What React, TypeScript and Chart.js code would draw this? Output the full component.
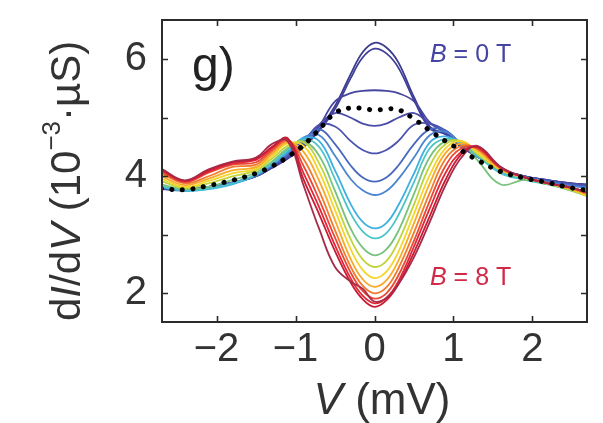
import React, { useEffect, useRef } from 'react';
import { Chart, registerables } from 'chart.js';

Chart.register(...registerables);

// Bias voltage grid (mV)
const voltages = [-2.7, -2.4, -2.1, -1.8, -1.5, -1.3, -1.1, -0.9, -0.7, -0.5, -0.3, -0.15, 0, 0.15, 0.3, 0.5, 0.7, 0.9, 1.1, 1.3, 1.6, 1.9, 2.2, 2.5, 2.7];

// dI/dV curves (10^-3 µS), from B = 0 T (blue) to B = 8 T (red)
const curveB01 = [3.78, 3.76, 3.81, 3.88, 4.00, 4.14, 4.30, 4.50, 4.80, 5.20, 5.75, 6.12, 6.28, 6.20, 5.95, 5.35, 4.85, 4.72, 4.50, 4.34, 4.12, 4.00, 3.93, 3.88, 3.86];
const curveB02 = [3.79, 3.76, 3.82, 3.89, 4.00, 4.15, 4.31, 4.50, 4.78, 5.15, 5.68, 6.03, 6.18, 6.10, 5.86, 5.30, 4.82, 4.72, 4.50, 4.34, 4.12, 4.00, 3.93, 3.88, 3.86];
const curveB03 = [3.79, 3.77, 3.82, 3.89, 4.00, 4.15, 4.32, 4.50, 4.85, 5.28, 5.42, 5.46, 5.47, 5.46, 5.42, 5.28, 4.92, 4.74, 4.52, 4.34, 4.12, 4.00, 3.93, 3.87, 3.85];
const curveB04 = [3.80, 3.77, 3.82, 3.89, 4.00, 4.16, 4.33, 4.54, 4.88, 5.08, 5.00, 4.90, 4.86, 4.90, 5.00, 5.08, 4.90, 4.76, 4.53, 4.34, 4.12, 4.00, 3.93, 3.87, 3.84];
const curveB05 = [3.80, 3.77, 3.82, 3.89, 4.01, 4.17, 4.35, 4.58, 4.88, 4.85, 4.60, 4.45, 4.39, 4.45, 4.60, 4.88, 4.90, 4.78, 4.54, 4.34, 4.12, 4.00, 3.92, 3.86, 3.83];
const curveB06 = [3.81, 3.77, 3.82, 3.89, 4.01, 4.18, 4.37, 4.62, 4.80, 4.55, 4.18, 3.98, 3.91, 3.98, 4.18, 4.55, 4.80, 4.78, 4.55, 4.35, 4.12, 3.99, 3.91, 3.85, 3.82];
const curveB07 = [3.81, 3.76, 3.80, 3.88, 4.01, 4.19, 4.40, 4.66, 4.70, 4.35, 3.95, 3.76, 3.68, 3.75, 3.95, 4.32, 4.70, 4.76, 4.55, 4.34, 4.11, 3.98, 3.90, 3.83, 3.80];
const curveB08 = [3.82, 3.75, 3.78, 3.86, 4.02, 4.20, 4.42, 4.65, 4.60, 4.10, 3.52, 3.22, 3.11, 3.20, 3.50, 4.05, 4.58, 4.68, 4.55, 4.35, 4.08, 3.96, 3.88, 3.78, 3.70];
const curveB09 = [3.83, 3.76, 3.79, 3.88, 4.03, 4.22, 4.45, 4.63, 4.50, 3.95, 3.36, 3.06, 2.94, 3.03, 3.33, 3.90, 4.48, 4.64, 4.56, 4.35, 4.05, 3.94, 3.86, 3.76, 3.68];
const curveB10 = [3.86, 3.78, 3.82, 3.94, 4.06, 4.25, 4.48, 4.60, 4.35, 3.75, 3.10, 2.78, 2.65, 2.75, 3.06, 3.70, 4.33, 4.60, 4.58, 4.28, 3.86, 3.94, 3.86, 3.75, 3.66];
const curveB11 = [3.92, 3.80, 3.88, 4.00, 4.10, 4.30, 4.52, 4.58, 4.22, 3.58, 2.92, 2.58, 2.45, 2.55, 2.88, 3.52, 4.18, 4.55, 4.60, 4.38, 4.10, 3.97, 3.87, 3.76, 3.65];
const curveB12 = [3.96, 3.82, 3.92, 4.05, 4.13, 4.34, 4.56, 4.52, 4.08, 3.42, 2.75, 2.40, 2.26, 2.37, 2.70, 3.36, 4.02, 4.48, 4.60, 4.42, 4.11, 3.98, 3.88, 3.78, 3.66];
const curveB13 = [4.00, 3.85, 3.96, 4.10, 4.16, 4.38, 4.58, 4.42, 3.92, 3.25, 2.58, 2.24, 2.11, 2.22, 2.55, 3.20, 3.88, 4.40, 4.56, 4.45, 4.12, 3.98, 3.88, 3.78, 3.68];
const curveB14 = [4.05, 3.88, 4.00, 4.16, 4.20, 4.42, 4.60, 4.30, 3.75, 3.08, 2.45, 2.13, 2.00, 2.10, 2.42, 3.04, 3.72, 4.30, 4.52, 4.47, 4.13, 3.98, 3.88, 3.79, 3.70];
const curveB15 = [4.08, 3.90, 4.06, 4.20, 4.24, 4.45, 4.62, 4.18, 3.60, 2.95, 2.35, 2.04, 1.91, 2.00, 2.30, 2.90, 3.58, 4.18, 4.48, 4.48, 4.14, 3.98, 3.88, 3.80, 3.72];
const curveB16 = [4.10, 3.92, 4.08, 4.22, 4.28, 4.48, 4.64, 4.06, 3.47, 2.82, 2.25, 1.96, 1.83, 1.92, 2.20, 2.80, 3.45, 4.06, 4.42, 4.50, 4.15, 3.98, 3.88, 3.80, 3.72];
const curveB17 = [4.12, 3.92, 4.10, 4.24, 4.30, 4.50, 4.65, 3.95, 3.35, 2.72, 2.18, 1.90, 1.77, 1.88, 2.15, 2.70, 3.32, 3.94, 4.38, 4.50, 4.15, 3.98, 3.88, 3.80, 3.72];
const curveB18 = [4.13, 3.93, 4.12, 4.25, 4.32, 4.55, 4.60, 3.85, 3.10, 2.45, 2.20, 2.08, 1.86, 1.92, 2.15, 2.62, 3.22, 3.85, 4.32, 4.52, 4.16, 3.98, 3.88, 3.80, 3.72];

// Dotted reference curve
const dottedCurve = [3.79, 3.77, 3.84, 3.93, 4.05, 4.17, 4.33, 4.53, 4.80, 5.08, 5.17, 5.16, 5.13, 5.15, 5.14, 4.98, 4.78, 4.60, 4.44, 4.28, 4.08, 3.97, 3.89, 3.80, 3.76];

const curves = [curveB01, curveB02, curveB03, curveB04, curveB05, curveB06, curveB07, curveB08, curveB09, curveB10, curveB11, curveB12, curveB13, curveB14, curveB15, curveB16, curveB17, curveB18];
const curveColors = ['#3b3b8f', '#3f3f99', '#4646a0', '#4a4aa8', '#4a52b0', '#4868c0', '#4c84d0', '#3fb0e0', '#4cc4c8', '#78c27c', '#c0d43c', '#f6d52a', '#f8aa2a', '#f27a2e', '#e84a36', '#e0283a', '#c81c34', '#a82a48'];

const xTickValues = [-2, -1, 0, 1, 2];
const yTickValues = [2, 3, 4, 5, 6];
const yLabelledTicks = [2, 4, 6];

const FONT = '"Liberation Sans", Arial, sans-serif';

const decorPlugin = {
  id: 'decor',
  afterDraw(chart: any) {
    const { ctx, chartArea: a, scales } = chart;
    ctx.save();
    // frame
    ctx.strokeStyle = '#2b2b2b';
    ctx.lineWidth = 2;
    ctx.strokeRect(a.left, a.top, a.right - a.left, a.bottom - a.top);
    // inward ticks
    ctx.lineWidth = 1.6;
    const tl = 6;
    ctx.beginPath();
    xTickValues.forEach((v) => {
      const px = Math.round(scales.x.getPixelForValue(v)) + 0.5;
      ctx.moveTo(px, a.bottom); ctx.lineTo(px, a.bottom - tl);
      ctx.moveTo(px, a.top); ctx.lineTo(px, a.top + tl);
    });
    yTickValues.forEach((v) => {
      const py = Math.round(scales.y.getPixelForValue(v)) + 0.5;
      ctx.moveTo(a.left, py); ctx.lineTo(a.left + tl, py);
      ctx.moveTo(a.right, py); ctx.lineTo(a.right - tl, py);
    });
    ctx.stroke();

    ctx.fillStyle = '#333';
    ctx.textAlign = 'left';
    ctx.textBaseline = 'alphabetic';

    // x title: V (mV)
    const xt = [
      { t: 'V', f: `italic 44px ${FONT}` },
      { t: ' (mV)', f: `44px ${FONT}` },
    ];
    let w = 0;
    xt.forEach((s) => { ctx.font = s.f; w += ctx.measureText(s.t).width; });
    let cx = 382 - w / 2;
    xt.forEach((s) => { ctx.font = s.f; ctx.fillText(s.t, cx, 414); cx += ctx.measureText(s.t).width; });

    // y title: dI/dV (10^-3·µS)
    ctx.save();
    ctx.translate(80, 321);
    ctx.rotate(-Math.PI / 2);
    let x = 0;
    const seg = (t: string, f: string, dy = 0) => {
      ctx.font = f;
      ctx.fillText(t, x, dy);
      x += ctx.measureText(t).width;
    };
    seg('d', `42px ${FONT}`);
    seg('I', `italic 42px ${FONT}`);
    seg('/d', `42px ${FONT}`);
    seg('V', `italic 42px ${FONT}`);
    seg(' (10', `42px ${FONT}`);
    seg('−3', `26px ${FONT}`, -20);
    seg('·µS)', `42px ${FONT}`);
    ctx.restore();

    // panel label
    ctx.fillStyle = '#222';
    ctx.font = `48px ${FONT}`;
    ctx.fillText('g)', 192, 81);

    // B labels
    const bLabel = (val: string, color: string, bx: number, by: number) => {
      ctx.fillStyle = color;
      ctx.font = `italic 25px ${FONT}`;
      ctx.fillText('B', bx, by);
      const bw = ctx.measureText('B').width;
      ctx.font = `25px ${FONT}`;
      ctx.fillText(' = ' + val + ' T', bx + bw, by);
    };
    bLabel('0', '#4444a2', 430, 62);
    bLabel('8', '#d02a48', 430, 285);

    ctx.restore();
  },
};

export default function App() {
  const canvasRef = useRef<HTMLCanvasElement | null>(null);

  useEffect(() => {
    document.body.style.margin = '0';
    const canvas = canvasRef.current;
    if (!canvas) return;

    const toPoints = (arr: number[]) => voltages.map((v, i) => ({ x: v, y: arr[i] }));

    const datasets: any[] = [
      {
        label: 'dotted',
        data: toPoints(dottedCurve),
        borderColor: '#000',
        borderWidth: 5,
        borderDash: [0.1, 10.5],
        borderCapStyle: 'round',
        pointRadius: 0,
        fill: false,
        tension: 0.4,
      },
    ];
    curves.slice().reverse().forEach((c, idx) => {
      const i = curves.length - 1 - idx;
      datasets.push({
        label: 'B' + i,
        data: toPoints(c),
        borderColor: curveColors[i],
        borderWidth: 1.8,
        pointRadius: 0,
        fill: false,
        tension: 0.4,
      });
    });

    const chart = new Chart(canvas, {
      type: 'line',
      data: { datasets },
      options: {
        responsive: false,
        animation: false,
        events: [],
        layout: { padding: { left: 0, right: 16, top: 20, bottom: 0 } },
        plugins: { legend: { display: false }, tooltip: { enabled: false } },
        scales: {
          x: {
            type: 'linear',
            min: -2.69,
            max: 2.69,
            afterBuildTicks: (s: any) => { s.ticks = xTickValues.map((v) => ({ value: v })); },
            afterFit: (s: any) => { s.height = 101; s.paddingLeft = 0; s.paddingRight = 0; },
            grid: { display: false, drawTicks: false },
            border: { display: false },
            ticks: {
              color: '#333',
              font: { family: FONT, size: 40 },
              padding: 4,
              maxRotation: 0,
              callback: (v: any) => (Number(v) < 0 ? '−' + Math.abs(Number(v)) : String(v)),
            },
          },
          y: {
            type: 'linear',
            min: 1.51,
            max: 6.67,
            afterBuildTicks: (s: any) => { s.ticks = yTickValues.map((v) => ({ value: v })); },
            afterFit: (s: any) => { s.width = 162; s.paddingTop = 0; s.paddingBottom = 0; },
            grid: { display: false, drawTicks: false },
            border: { display: false },
            ticks: {
              color: '#333',
              font: { family: FONT, size: 40 },
              padding: 15,
              callback: (v: any) => (yLabelledTicks.includes(Number(v)) ? String(v) : ''),
            },
          },
        },
      },
      plugins: [decorPlugin],
    });

    return () => chart.destroy();
  }, []);

  return (
    <div style={{ width: 603, height: 423, background: '#fff' }}>
      <canvas ref={canvasRef} width={603} height={423} />
    </div>
  );
}
